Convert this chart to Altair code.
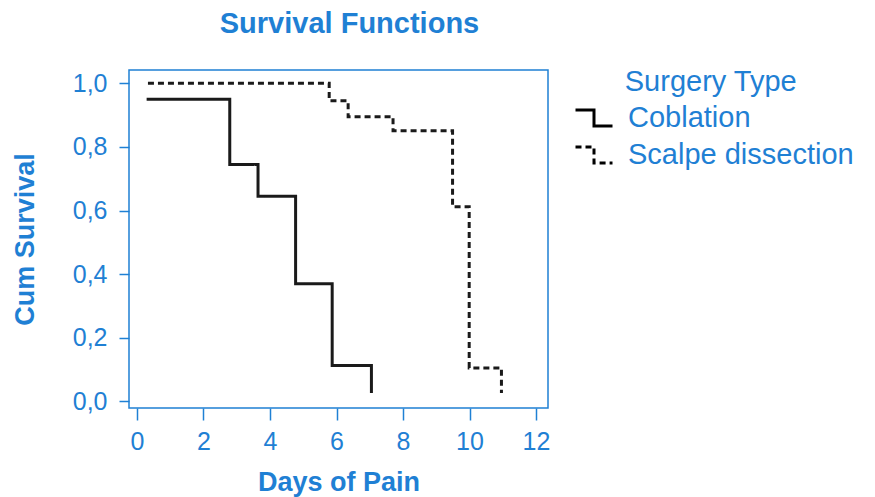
import altair as alt
import pandas as pd

# ---- data ----
groups = ["Coblation", "Scalpe dissection"]
cob_days = [0.29, 2.79, 3.64, 4.77, 5.87, 7.05]
cob_surv = [0.95, 0.745, 0.645, 0.37, 0.113, 0.026]
sca_days = [0.33, 5.78, 6.35, 7.70, 9.49, 9.99, 10.96]
sca_surv = [1.0, 0.945, 0.895, 0.851, 0.612, 0.105, 0.026]
x_ticks = [0, 2, 4, 6, 8, 10, 12]
y_ticks = [0.0, 0.2, 0.4, 0.6, 0.8, 1.0]

rows = []
for i, (d, s) in enumerate(zip(cob_days, cob_surv)):
    rows.append({"group": groups[0], "day": d, "surv": s, "o": i})
for i, (d, s) in enumerate(zip(sca_days, sca_surv)):
    rows.append({"group": groups[1], "day": d, "surv": s, "o": i})
df = pd.DataFrame(rows)

BLUE = "#1f80d4"
FONT = "Liberation Sans"

step_path = "M -1 -0.43 L 0 -0.43 L 0 0.43 L 1 0.43"
legend_title = "\u200b" + "\u00a0" * 6 + "\u200a" + "Surgery Type"

chart = alt.Chart(df).mark_line(interpolate="step-after", strokeWidth=3,
                                color="#1a1a1a").encode(
    x=alt.X("day:Q",
            scale=alt.Scale(domain=[-0.24, 12.36], nice=False, zero=False),
            axis=alt.Axis(values=x_ticks, title="Days of Pain", format="d",
                          tickSize=12, labelPadding=9, titlePadding=15)),
    y=alt.Y("surv:Q",
            scale=alt.Scale(domain=[-0.021, 1.042], nice=False, zero=False),
            axis=alt.Axis(values=y_ticks, title="Cum Survival",
                          labelExpr="replace(format(datum.value, '.1f'), '.', ',')",
                          tickSize=10, labelPadding=12, titlePadding=33)),
    strokeDash=alt.StrokeDash("group:N",
                              scale=alt.Scale(domain=groups, range=[[1, 0], [6, 4]]),
                              legend=alt.Legend(
                                  title=legend_title,
                                  orient="none", legendX=445, legendY=-2,
                                  padding=0,
                                  symbolType=step_path, symbolSize=1369,
                                  symbolStrokeWidth=3, symbolStrokeColor="black",
                                  symbolFillColor="transparent",
                                  labelOffset=14, rowPadding=2, titlePadding=1)),
    order="o:Q",
).properties(
    width=419, height=338,
    padding={"left": 121, "top": 62, "right": 319, "bottom": 89},
    autosize=alt.AutoSizeParams(type="none"),
    title=alt.Title("Survival Functions", fontSize=29, fontWeight="bold",
                    color=BLUE, font=FONT, dx=11, offset=29),
).configure_view(
    stroke=BLUE, strokeWidth=1.5
).configure_axis(
    domain=False, grid=False, tickColor=BLUE, tickWidth=1.5,
    labelColor=BLUE, labelFont=FONT, labelFontSize=25,
    titleColor=BLUE, titleFont=FONT, titleFontSize=27, titleFontWeight="bold",
).configure_legend(
    labelColor=BLUE, labelFont=FONT, labelFontSize=29,
    titleColor=BLUE, titleFont=FONT, titleFontSize=29, titleFontWeight="normal",
    labelLimit=400, titleLimit=400,
)

chart.save("out.html", embed_options={"renderer": "svg", "actions": False})
